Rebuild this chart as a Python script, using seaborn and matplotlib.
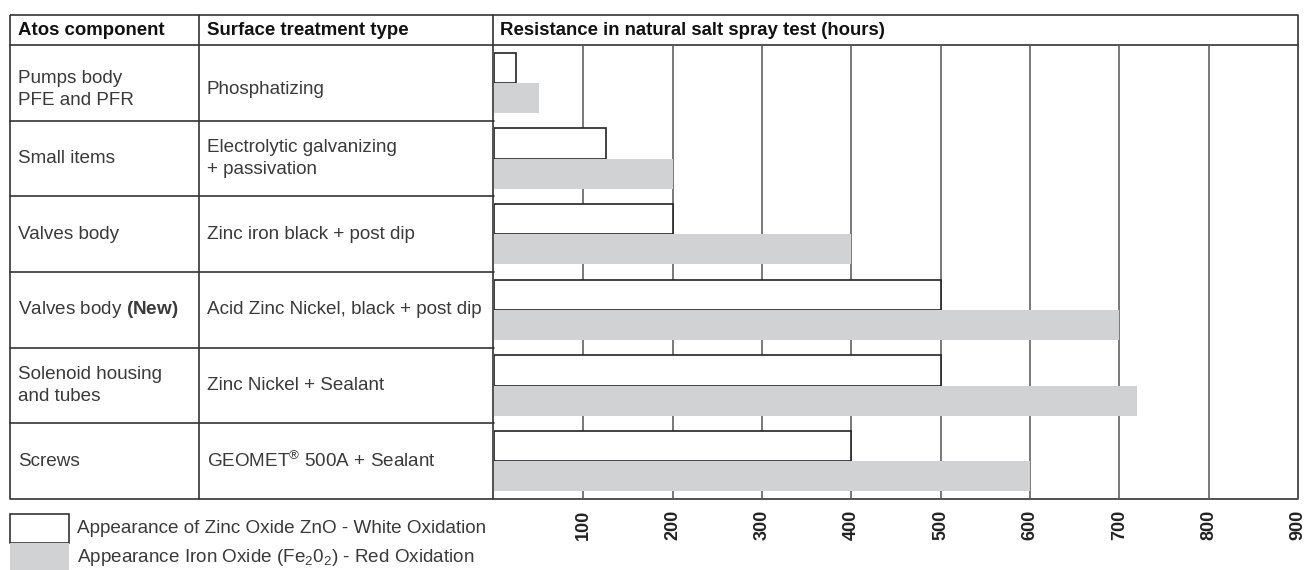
import matplotlib
matplotlib.use("Agg")
import matplotlib.pyplot as plt
import seaborn as sns
import pandas as pd
from matplotlib import transforms
from matplotlib.patches import Rectangle

# ---------------- data ----------------
components = ["Pumps body\nPFE and PFR", "Small items", "Valves body",
              "Valves body $\\mathbf{(New)}$", "Solenoid housing\nand tubes", "Screws"]
treatments = ["Phosphatizing", "Electrolytic galvanizing\n+ passivation",
              "Zinc iron black + post dip", "Acid Zinc Nickel, black + post dip",
              "Zinc Nickel + Sealant", "GEOMET$^{®}$ 500A + Sealant"]
white_hours = [25, 125, 200, 500, 500, 400]
red_hours = [50, 200, 400, 700, 720, 600]
series_names = ["Appearance of Zinc Oxide ZnO - White Oxidation",
                "Appearance Iron Oxide (Fe$_{2}$0$_{2}$) - Red Oxidation"]
tick_values = [100, 200, 300, 400, 500, 600, 700, 800, 900]
tick_labels = ["100", "200", "300", "400", "500", "600", "700", "800", "900"]
headers = ["Atos component", "Surface treatment type",
           "Resistance in natural salt spray test (hours)"]

# ---------------- style ----------------
sns.set_style("white")
plt.rcParams["font.family"] = ["Liberation Sans", "DejaVu Sans"]
plt.rcParams["mathtext.fontset"] = "custom"
plt.rcParams["mathtext.rm"] = "Liberation Sans"
plt.rcParams["mathtext.it"] = "Liberation Sans"
plt.rcParams["mathtext.bf"] = "Liberation Sans:bold"
plt.rcParams["mathtext.default"] = "regular"

WHITE = "#ffffff"
GRAY = "#d1d2d4"
LINE = "#333333"
TXT = "#3a3a3a"

W, H = 1307, 570
fig = plt.figure(figsize=(W / 100, H / 100), dpi=100)
bg = fig.add_axes([0, 0, 1, 1], zorder=0)
bg.set_xlim(0, W)
bg.set_ylim(H, 0)
bg.axis("off")

x0, x1, ytop, ybot = 494, 1298, 45, 499
ax = fig.add_axes([x0 / W, (H - ybot) / H, (x1 - x0) / W, (ybot - ytop) / H], zorder=1)
ax.set_facecolor("none")

df = pd.DataFrame({
    "component": components * 2,
    "series": [series_names[0]] * len(components) + [series_names[1]] * len(components),
    "hours": white_hours + red_hours,
})

sns.barplot(data=df, x="hours", y="component", hue="series", order=components,
            hue_order=series_names, palette=[WHITE, GRAY], orient="h", width=0.8,
            saturation=1, errorbar=None, legend=False, ax=ax, zorder=3)
for p in ax.containers[0]:
    p.set_edgecolor("#222222")
    p.set_linewidth(1.2)
for p in ax.containers[1]:
    p.set_edgecolor("none")
    p.set_linewidth(0)

ax.set_xlim(0, 900)
ax.set_ylim(len(components) - 0.5, -0.5)
ax.set_xticks(tick_values)
ax.set_xticklabels(tick_labels, rotation=90, fontweight="bold", fontsize=13, color="#222222")
ax.tick_params(axis="x", length=0, pad=7.5)
ax.set_yticks([])
ax.set_xlabel("")
ax.set_ylabel("")
ax.grid(axis="x", color="#555555", linewidth=1.1)
ax.grid(axis="y", visible=False)
ax.set_axisbelow(True)
for s in ax.spines.values():
    s.set_visible(False)

# ---------------- table frame ----------------
lw = 1.2
bg.plot([10, 1298, 1298, 10, 10], [15, 15, ybot, ybot, 15], color=LINE, lw=lw, solid_capstyle="butt")
bg.plot([10, 1298], [ytop, ytop], color=LINE, lw=lw)
for xv in (199, 493):
    bg.plot([xv, xv], [15, ybot], color=LINE, lw=lw)

trans = transforms.blended_transform_factory(bg.transData, ax.transData)
for i in range(len(components) - 1):
    bg.plot([10, 494], [i + 0.5, i + 0.5], color=LINE, lw=lw, transform=trans, clip_on=False)

# headers
for xv, h in zip((18, 207, 500), headers):
    bg.text(xv, 30.5, h, fontsize=13.4, fontweight="bold", color="#111111", va="center", ha="left")

# row texts (first row sits a little low in the reference)
row_shift = [0.09, 0, 0, 0, 0, 0]
for i, (c, t) in enumerate(zip(components, treatments)):
    yv = i + row_shift[i]
    bg.text(18, yv, c, transform=trans, fontsize=13.6, color=TXT, va="center", ha="left",
            linespacing=1.35)
    bg.text(207, yv, t, transform=trans, fontsize=13.6, color=TXT, va="center", ha="left",
            linespacing=1.35)

# ---------------- legend ----------------
bg.add_patch(Rectangle((10, 514), 59, 29, facecolor=WHITE, edgecolor="#222222", lw=1.1))
bg.add_patch(Rectangle((10, 543), 59, 30, facecolor=GRAY, edgecolor="none"))
bg.text(77, 528.5, series_names[0], fontsize=13.6, color=TXT, va="center", ha="left")
bg.text(77, 557, series_names[1], fontsize=13.6, color=TXT, va="center", ha="left")

fig.savefig("out.png", dpi=100)
